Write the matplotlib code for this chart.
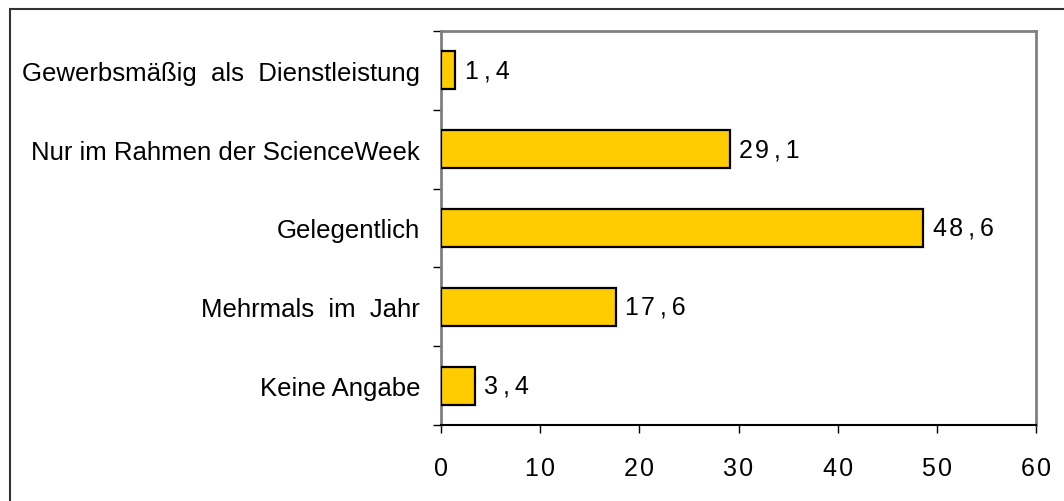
import matplotlib
matplotlib.use("Agg")
import matplotlib.pyplot as plt
from matplotlib.patches import Rectangle

plt.rcParams['font.family'] = ['Liberation Sans', 'DejaVu Sans']

categories = ["Gewerbsmäßig  als  Dienstleistung",
              "Nur im Rahmen der ScienceWeek",
              "Gelegentlich",
              "Mehrmals  im  Jahr",
              "Keine Angabe"]
values = [1.4, 29.1, 48.6, 17.6, 3.4]
value_labels = ["1,4", "29,1", "48,6", "17,6", "3,4"]
xticks = [0, 10, 20, 30, 40, 50, 60]

def spaced(s):
    return "\u200a".join(s).replace("\u200a,\u200a", "\u2009,\u2009")

W, H = 1064, 502
fig = plt.figure(figsize=(W / 100, H / 100), dpi=100)
fig.patches.append(Rectangle((10 / W, -0.1), 1.2, 1 - 10 / H + 0.1,
                             transform=fig.transFigure, fill=False,
                             edgecolor='#333333', linewidth=1.5))
ax = fig.add_axes([441 / W, 1 - 426 / H, (1036 - 441) / W, (426 - 32) / H])

ypos = list(range(len(categories)))
ax.barh(ypos, values, height=0.48, color='#FFCC00', edgecolor='black',
        linewidth=1.6, zorder=3)
for y, v, lab in zip(ypos, values, value_labels):
    ax.annotate(spaced(lab), (v, y), xytext=(7, 0), textcoords='offset points',
                va='center', ha='left', fontsize=18, color='black')

ax.set_ylim(len(categories) - 0.5, -0.5)
ax.set_xlim(0, 60)
ax.set_yticks([i - 0.5 for i in range(len(categories) + 1)], minor=False)
ax.set_yticklabels([])
ax.set_yticks(ypos, minor=True)
ax.set_yticklabels(categories, minor=True, fontsize=18.5)
ax.tick_params(axis='y', which='minor', length=0, pad=15)
ax.tick_params(axis='y', which='major', length=6, width=1, direction='out')
ax.set_xticks(xticks)
ax.set_xticklabels([spaced(str(t)) for t in xticks], fontsize=18)
ax.tick_params(axis='x', length=6, width=1, direction='out', pad=16)

for s in ['top', 'right', 'left']:
    ax.spines[s].set_color('#808080')
    ax.spines[s].set_linewidth(2)
ax.spines['bottom'].set_color('black')
ax.spines['bottom'].set_linewidth(1.5)

fig.savefig("out.png", dpi=100)
